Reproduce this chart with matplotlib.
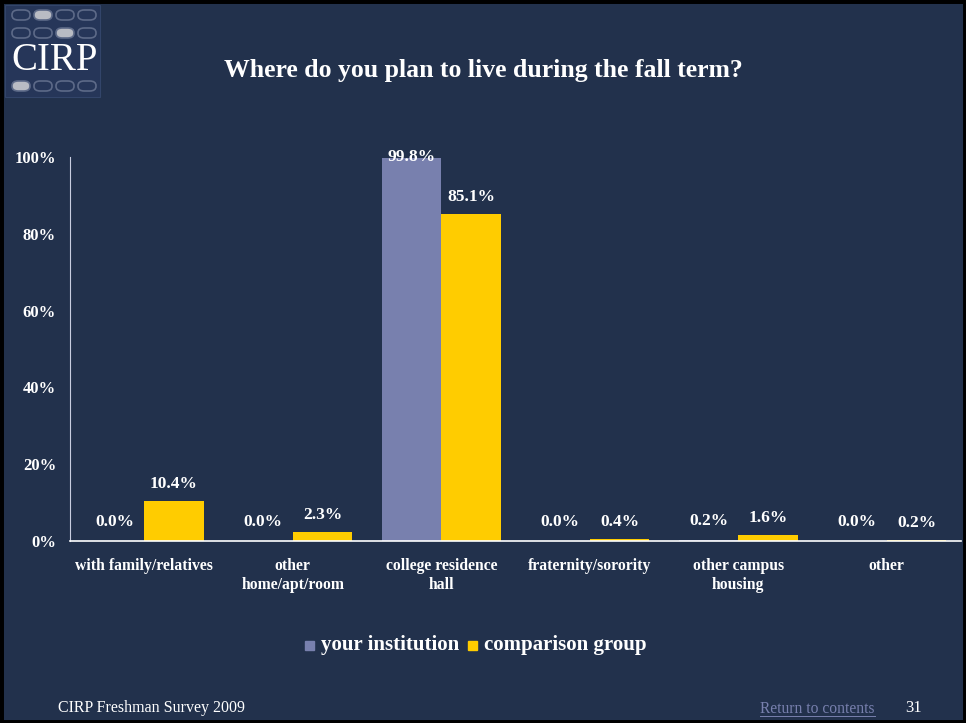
import numpy as np
from matplotlib import pyplot as plt
from matplotlib.patches import FancyBboxPatch, Rectangle

categories = ['with family/relatives', 'other\nhome/apt/room', 'college residence\nhall',
              'fraternity/sorority', 'other campus\nhousing', 'other']
institution = [0.0, 0.0, 99.8, 0.0, 0.2, 0.0]
comparison = [10.4, 2.3, 85.1, 0.4, 1.6, 0.2]
yticks = [0, 20, 40, 60, 80, 100]

bg = '#22314c'
c_inst = '#7880ae'
c_comp = '#ffcc00'
serif = ['Liberation Serif', 'DejaVu Serif']

fig = plt.figure(figsize=(9.66, 7.23), dpi=100, facecolor=bg)
W, H = 966, 723

def px(x, y):
    # pixel coords (top-left origin) -> figure fraction
    return x / W, 1 - y / H

ax = fig.add_axes([70 / W, 182 / H, 891 / W, 384 / H], facecolor=bg)
x = np.arange(len(categories))
w = 0.4
ax.bar(x - w / 2, institution, w, color=c_inst)
ax.bar(x + w / 2, comparison, w, color=c_comp)
for xi, v in zip(x - w / 2, institution):
    ax.text(xi, min(v + 5.0, 100), f'{v:.1f}%', ha='center', va='center',
            color='white', fontsize=12.5, fontweight='bold', family=serif)
for xi, v in zip(x + w / 2, comparison):
    ax.text(xi, min(v + 4.5, 100), f'{v:.1f}%', ha='center', va='center',
            color='white', fontsize=12.5, fontweight='bold', family=serif)

ax.set_xlim(-0.5, len(categories) - 0.5)
ax.set_ylim(0, 100)
ax.set_yticks(yticks)
ax.set_yticklabels([f'{t}%' for t in yticks], color='white', fontsize=12,
                   fontweight='bold', family=serif)
ax.set_xticks(x)
ax.set_xticklabels(categories, color='white', fontsize=11.3, fontweight='bold',
                   family=serif, linespacing=1.3, va='top')
ax.tick_params(length=0)
ax.tick_params(axis='y', pad=10)
ax.tick_params(axis='x', pad=12)
for s in ['top', 'right']:
    ax.spines[s].set_visible(False)
ax.spines['left'].set_color('#c8cde0')
ax.spines['left'].set_linewidth(0.8)
ax.spines['bottom'].set_color('white')
ax.spines['bottom'].set_linewidth(1.2)

# title
fig.text(*px(483, 70), 'Where do you plan to live during the fall term?', ha='center',
         va='center', color='white', fontsize=18.5, fontweight='bold', family=serif)

# legend
fig.patches.append(Rectangle(px(305, 650), 9 / W, 9 / H, transform=fig.transFigure,
                             color=c_inst))
fig.text(*px(321, 645), 'your institution', ha='left', va='center', color='white',
         fontsize=15, fontweight='bold', family=serif)
fig.patches.append(Rectangle(px(468, 650), 9 / W, 9 / H, transform=fig.transFigure,
                             color=c_comp))
fig.text(*px(484, 645), 'comparison group', ha='left', va='center', color='white',
         fontsize=15, fontweight='bold', family=serif)

# footer
fig.text(*px(58, 708), 'CIRP Freshman Survey 2009', ha='left', va='center',
         color='white', fontsize=11.5, family=serif)
fig.text(*px(760, 709), 'Return to contents', ha='left', va='center',
         color='#7880ae', fontsize=11.2, family=serif)
fig.add_artist(plt.Line2D([760 / W, 875 / W], [1 - 716 / H, 1 - 716 / H], color='#7880ae',
                          lw=0.7))
fig.text(*px(905, 708), '31', ha='left', va='center', color='white', fontsize=12,
         family=serif)

# logo
fig.patches.append(Rectangle(px(5, 97), 95 / W, 92 / H, transform=fig.transFigure,
                             facecolor='#263659', edgecolor='#33456a', lw=0.8))
pills = [(15, [1]), (33, [2]), (86, [0])]
for yy, filled in pills:
    for i in range(4):
        x0 = 12 + i * 22
        fc = '#b9bcc4' if i in filled else 'none'
        p = FancyBboxPatch(px(x0, yy + 5), 18 / W, 10 / H,
                           boxstyle='round,pad=0,rounding_size=0.0065',
                           transform=fig.transFigure, facecolor=fc,
                           edgecolor='#5d6a88', lw=1.2)
        fig.patches.append(p)
fig.text(*px(55, 60), 'CIRP', ha='center', va='center', color='white', fontsize=28,
         family=serif)

# outer border
fig.patches.append(Rectangle((0, 0), 1, 1, transform=fig.transFigure, fill=False,
                             edgecolor='black', lw=5))

fig.savefig('out.png', dpi=100, facecolor=bg)
